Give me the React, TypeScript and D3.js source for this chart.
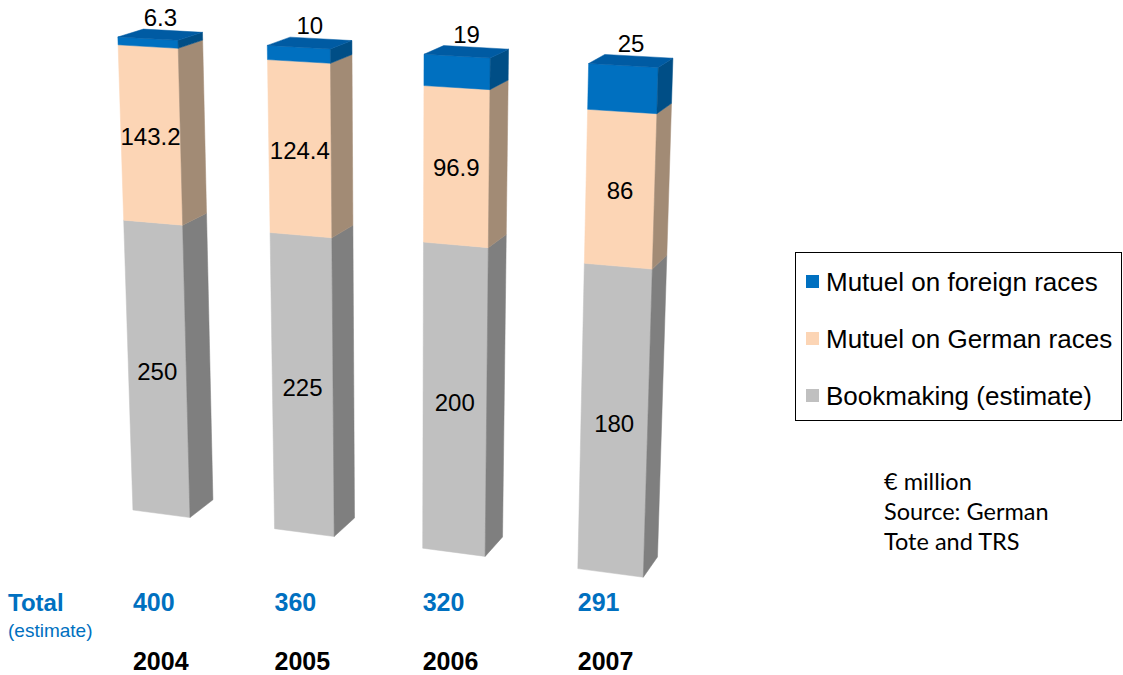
import React from "react";
import * as d3 from "d3";

// ---- data ----
const years = ["2004", "2005", "2006", "2007"];
const bookmaking = [250, 225, 200, 180];
const mutuelGerman = [143.2, 124.4, 96.9, 86];
const mutuelForeign = [6.3, 10, 19, 25];
const totals = [400, 360, 320, 291];
const seriesKeys = ["bookmaking", "german", "foreign"];
const legendLabels = ["Mutuel on foreign races", "Mutuel on German races", "Bookmaking (estimate)"];
const noteLines = ["€ million", "Source: German", "Tote and TRS"];

// ---- styles ----
const W = 1123;
const H = 675;
const colors: Record<string, { front: string; side: string; top: string }> = {
  foreign: { front: "#0070C0", side: "#004E86", top: "#005BA3" },
  german: { front: "#FCD5B5", side: "#A28B75", top: "#E0BD9F" },
  bookmaking: { front: "#C0C0C0", side: "#7F7F7F", top: "#A6A6A6" },
};
const legendColors = ["#0070C0", "#FCD5B5", "#C0C0C0"];

// ---- 3D camera ----
const theta = (20 * Math.PI) / 180; // yaw
const phi = (15 * Math.PI) / 180; // pitch (looking down)
const focal = 2300;
const cx = 400;
const cy = 300;
const q0 = [-56.2, -44.2, 484]; // world origin in camera coords
const right = [Math.cos(theta), 0, Math.sin(theta)];
const forward = [-Math.sin(theta) * Math.cos(phi), -Math.sin(phi), Math.cos(theta) * Math.cos(phi)];
const upv = [-Math.sin(theta) * Math.sin(phi), Math.cos(phi), Math.cos(theta) * Math.sin(phi)];
const dot = (a: number[], b: number[]) => a[0] * b[0] + a[1] * b[1] + a[2] * b[2];

function project(p: number[]): [number, number] {
  const xc = dot(p, right) + q0[0];
  const yc = dot(p, upv) + q0[1];
  const zc = dot(p, forward) + q0[2];
  return [cx + (focal * xc) / zc, cy - (focal * yc) / zc];
}

const depth = 11.5;
const step = 32.33;
const bandW = 13.2;

export default function App() {
  const rows = years.map((y, i) => ({
    year: y,
    bookmaking: bookmaking[i],
    german: mutuelGerman[i],
    foreign: mutuelForeign[i],
  }));
  const stacked = d3.stack<any>().keys(seriesKeys).offset(d3.stackOffsetExpand)(rows);

  const x = d3
    .scaleBand<string>()
    .domain(years)
    .range([0, step * (years.length - (1 - bandW / step))])
    .paddingInner(1 - bandW / step)
    .paddingOuter(0);
  const yScale = d3.scaleLinear().domain([0, 1]).range([0, 100]);

  const poly = (pts: number[][]) => pts.map((p) => project(p).join(",")).join(" ");

  const faces: React.ReactNode[] = [];
  const labels: React.ReactNode[] = [];

  years.forEach((yr, i) => {
    const x0 = x(yr)!;
    const x1 = x0 + x.bandwidth();
    stacked.forEach((layer, li) => {
      const d = layer[i];
      const y0 = yScale(d[0]);
      const y1 = yScale(d[1]);
      const c = colors[layer.key];
      faces.push(
        <polygon
          key={`f-${yr}-${layer.key}`}
          points={poly([[x0, y0, 0], [x1, y0, 0], [x1, y1, 0], [x0, y1, 0]])}
          fill={c.front}
          stroke={c.front}
          strokeWidth={0.5}
        />
      );
      faces.push(
        <polygon
          key={`s-${yr}-${layer.key}`}
          points={poly([[x1, y0, 0], [x1, y0, depth], [x1, y1, depth], [x1, y1, 0]])}
          fill={c.side}
          stroke={c.side}
          strokeWidth={0.5}
        />
      );
      if (li === stacked.length - 1) {
        faces.push(
          <polygon
            key={`t-${yr}`}
            points={poly([[x0, y1, 0], [x1, y1, 0], [x1, y1, depth], [x0, y1, depth]])}
            fill={c.top}
            stroke={c.top}
            strokeWidth={0.5}
          />
        );
        const [lx, ly] = project([(x0 + x1) / 2, y1, depth / 2]);
        labels.push(
          <text key={`l-${yr}-${layer.key}`} x={lx} y={ly - 17} textAnchor="middle" dominantBaseline="central">
            {String(rows[i][layer.key as "foreign"])}
          </text>
        );
      } else {
        const [lx, ly] = project([(x0 + x1) / 2, (y0 + y1) / 2, 0]);
        labels.push(
          <text key={`l-${yr}-${layer.key}`} x={lx} y={ly + 1} textAnchor="middle" dominantBaseline="central">
            {String(rows[i][layer.key as "german"])}
          </text>
        );
      }
    });
  });

  const baseX = years.map((yr) => project([x(yr)!, 0, 0])[0]);

  return (
    <svg
      width={W}
      height={H}
      style={{ position: "absolute", left: 0, top: 0, background: "#fff" }}
      fontFamily="'Liberation Sans', Arial, sans-serif"
    >
      <g>{faces}</g>
      <g fontSize={24} fill="#000">{labels}</g>

      {/* totals and years */}
      <text x={8} y={611} fontSize={24} fontWeight="bold" fill="#0070C0">Total</text>
      <text x={8} y={637} fontSize={19} fill="#0070C0">(estimate)</text>
      {years.map((yr, i) => (
        <g key={`b-${yr}`}>
          <text x={baseX[i]} y={611} fontSize={25} fontWeight="bold" fill="#0070C0">
            {totals[i]}
          </text>
          <text x={baseX[i]} y={670} fontSize={25} fontWeight="bold" fill="#000">
            {yr}
          </text>
        </g>
      ))}

      {/* legend */}
      <rect x={795.5} y={252.5} width={326} height={168} fill="#fff" stroke="#000" strokeWidth={1} />
      {legendLabels.map((lab, i) => (
        <g key={`lg-${i}`}>
          <rect x={806} y={275 + i * 57} width={13} height={13} fill={legendColors[i]} />
          <text x={826} y={291 + i * 57} fontSize={26} fill="#000">
            {lab}
          </text>
        </g>
      ))}

      {/* note */}
      {noteLines.map((t, i) => (
        <text key={`n-${i}`} x={884} y={490 + i * 30} fontSize={23.5} fontFamily="Lato, 'Open Sans', sans-serif" fill="#000">
          {t}
        </text>
      ))}
    </svg>
  );
}
